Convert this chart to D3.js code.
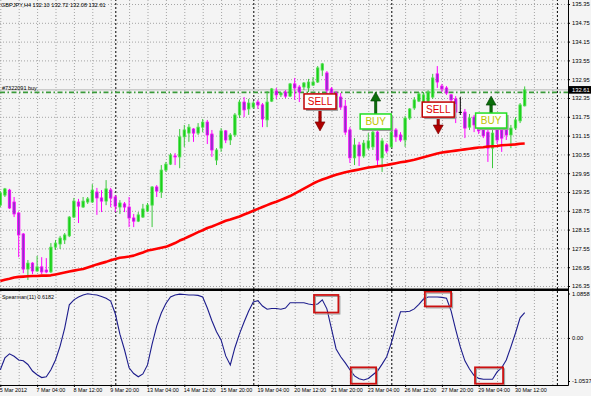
<!DOCTYPE html>
<html>
<head>
<meta charset="utf-8">
<script src="https://cdn.jsdelivr.net/npm/d3@7"></script>
<style>
html,body{margin:0;padding:0;background:#f4f4f4;overflow:hidden}
svg{display:block}
text{font-family:"Liberation Sans",Arial,sans-serif}
</style>
</head>
<body>
<svg id="chart" width="591" height="396"></svg>
<script>
// ---------------- DATA ----------------
const symbolTitle = "GBPJPY,H4  132.10 132.72 132.08 132.61";
const orderLabel = "#7322091 buy";
const orderPrice = 132.53;
const bidPrice = 132.61;
const indicatorLabel = "Spearman(11) 0.6182";

const barOpen = [
128.93,129.25,129.41,129.03,128.68,128.01,126.89,127.08,126.83,126.96,
126.86,126.80,127.59,127.69,127.82,127.95,128.55,129.03,128.87,129.03,
129.03,129.35,129.16,129.06,129.41,129.19,128.87,128.97,128.87,128.52,
128.42,128.55,128.74,128.93,129.51,129.35,130.05,130.24,130.50,130.47,
131.11,131.23,131.36,131.23,131.42,131.58,131.20,130.37,130.75,131.30,
131.01,131.17,131.81,132.22,132.00,132.06,132.22,132.13,131.65,132.25,
132.57,132.45,132.54,132.41,132.80,132.70,132.70,132.67,132.76,132.86,
133.24,133.15,132.64,132.51,132.38,132.09,131.33,130.44,130.85,130.50,
130.75,130.79,131.26,130.44,130.85,130.79,131.33,131.17,131.01,131.71,
132.03,132.25,132.16,132.25,132.38,133.12,132.73,132.67,132.45,132.32,
131.89,131.90,131.42,131.74,131.52,131.42,131.26,130.75,131.39,131.33,
131.39,131.17,131.39,131.62,132.10];
const barHigh = [
129.38,129.48,129.45,129.19,128.71,128.04,127.18,127.11,127.31,127.27,
127.24,127.72,127.82,127.95,128.04,128.58,129.16,129.13,129.19,129.19,
129.60,129.48,129.41,129.73,129.48,129.25,129.09,129.03,129.19,128.65,
128.71,128.97,129.00,129.54,129.57,130.21,130.31,130.59,130.59,131.36,
131.49,131.52,131.39,131.55,131.68,131.65,131.33,130.75,131.39,131.33,
131.23,131.87,132.29,132.38,132.32,132.25,132.29,132.19,132.57,132.67,
132.67,132.54,132.60,132.83,132.99,132.76,132.86,132.96,133.02,133.37,
133.47,133.21,132.70,132.57,132.51,132.29,131.42,131.07,130.95,131.01,
131.23,131.39,131.33,131.07,130.91,131.49,131.39,131.26,131.78,132.03,
132.38,132.54,132.54,132.60,133.12,133.37,132.80,132.73,132.48,132.41,
132.38,132.00,131.84,131.81,131.65,131.49,131.33,131.39,131.58,131.49,
131.49,131.49,131.74,132.19,132.72];
const barLow = [
128.87,129.19,128.81,128.55,127.27,126.76,126.54,126.73,126.80,126.73,
126.76,126.76,127.50,127.53,127.69,127.91,128.52,128.36,128.84,128.97,
129.00,128.62,128.71,128.93,128.87,128.71,128.65,128.71,128.23,128.23,
128.39,128.52,128.71,128.23,129.19,129.16,129.99,130.21,130.21,130.11,
130.79,130.95,130.95,131.17,131.26,130.88,130.47,130.21,130.63,130.91,
130.85,131.11,131.71,131.74,131.81,132.00,132.00,131.42,131.42,132.22,
132.32,132.38,132.35,132.38,132.29,132.22,132.60,132.54,132.73,132.83,
133.05,132.45,132.22,132.19,131.97,131.17,130.28,130.21,130.18,130.44,
130.69,130.69,130.18,129.99,130.59,130.75,130.95,130.95,130.79,131.65,
131.97,132.22,131.97,132.16,132.32,132.67,132.54,132.45,132.19,131.55,
131.81,131.07,131.33,131.26,131.20,131.07,130.31,130.11,130.88,130.63,
131.01,130.75,131.33,131.55,132.08];
const barClose = [
129.32,129.45,128.84,128.65,127.98,126.89,127.08,126.83,126.96,126.80,
126.80,127.59,127.72,127.88,127.98,128.55,129.06,128.90,129.06,129.13,
129.41,129.16,129.06,129.45,129.16,128.90,129.00,128.87,128.52,128.42,
128.62,128.81,128.93,129.51,129.38,130.05,130.24,130.53,130.47,131.11,
131.33,131.42,131.23,131.42,131.58,131.17,130.69,130.69,131.30,131.01,
131.17,131.81,132.22,131.97,132.19,132.19,132.13,131.68,132.22,132.64,
132.45,132.51,132.41,132.80,132.67,132.54,132.83,132.86,132.86,133.31,
133.44,132.60,132.51,132.32,132.06,131.26,130.44,130.85,130.50,130.91,
130.98,131.26,130.37,130.98,130.66,131.26,131.11,131.01,131.71,132.00,
132.29,132.48,132.45,132.54,132.99,132.86,132.64,132.51,132.29,131.90,
131.89,131.39,131.71,131.49,131.30,131.14,130.75,131.23,131.01,131.07,
131.17,131.39,131.65,132.13,132.61];

const maValues = [
126.51,126.55,126.58,126.62,126.64,126.65,126.66,126.67,126.67,126.68,
126.68,126.69,126.72,126.75,126.78,126.81,126.84,126.87,126.89,126.94,
126.99,127.04,127.08,127.12,127.17,127.21,127.25,127.27,127.29,127.32,
127.37,127.42,127.48,127.51,127.54,127.57,127.60,127.66,127.72,127.80,
127.86,127.93,128.00,128.07,128.13,128.20,128.25,128.31,128.37,128.43,
128.47,128.52,128.57,128.63,128.69,128.75,128.81,128.87,128.93,128.99,
129.04,129.10,129.16,129.22,129.30,129.38,129.46,129.54,129.62,129.69,
129.75,129.80,129.85,129.90,129.94,129.98,130.01,130.04,130.07,130.10,
130.13,130.15,130.17,130.19,130.21,130.24,130.27,130.30,130.32,130.35,
130.38,130.42,130.46,130.50,130.54,130.58,130.61,130.63,130.65,130.67,
130.69,130.71,130.73,130.75,130.77,130.78,130.80,130.81,130.82,130.84,
130.85,130.86,130.87,130.89,130.90];

const spearman = [
-0.78,-0.49,-0.39,-0.45,-0.54,-0.56,-0.65,-0.81,-0.90,-0.97,
-0.95,-0.78,-0.54,-0.20,0.24,0.81,0.93,1.00,1.05,1.08,
1.06,1.05,1.01,0.97,0.90,0.59,0.09,-0.29,-0.73,-0.87,
-0.95,-0.88,-0.66,-0.15,0.29,0.61,0.84,1.00,1.05,1.07,
1.06,1.05,1.05,1.04,1.00,0.73,0.42,0.15,-0.05,-0.44,
-0.66,-0.24,0.10,0.39,0.66,0.88,0.91,0.78,0.70,0.72,
0.72,0.70,0.73,0.86,0.86,0.86,0.86,0.83,0.81,0.83,
0.93,0.71,0.22,-0.27,-0.46,-0.61,-0.78,-0.93,-1.00,-1.03,
-0.99,-0.90,-0.81,-0.64,-0.46,-0.12,0.27,0.64,0.64,0.65,
0.71,0.82,0.95,1.00,1.00,1.00,0.99,0.97,0.66,0.20,
-0.22,-0.56,-0.76,-0.92,-0.99,-1.01,-1.01,-1.01,-0.83,-0.73,
-0.54,-0.22,0.12,0.49,0.6182];

const priceTicks = [126.35,126.95,127.55,128.15,128.75,129.35,129.95,130.55,131.15,131.75,132.35,132.95,133.55,134.15,134.75,135.35];
const subTicks = [1.0858, 0.00, -1.0537];
const timeLabelBars = [0,8,16,24,32,40,48,56,64,72,80,88,96,104,112];
const timeLabelTexts = ["5 Mar 2012","7 Mar 04:00","8 Mar 12:00","9 Mar 20:00","13 Mar 04:00","14 Mar 12:00","15 Mar 20:00","19 Mar 04:00","20 Mar 12:00","21 Mar 20:00","23 Mar 04:00","26 Mar 12:00","27 Mar 20:00","29 Mar 04:00","30 Mar 12:00"];
const weekSeparatorBars = [25,55,85,121];

const signalBars = [69.5, 81.6, 95.2, 106.7];
const signalTypes = ["SELL","BUY","SELL","BUY"];
const signalLabelPrices = [132.48, 131.84, 132.22, 131.87];
const signalArrowPrices = [131.30, 132.54, 131.20, 132.41];

const zoneFrom = [68.2, 76.2, 92.3, 103.2];
const zoneTo   = [73.5, 81.7, 98.0, 109.3];
const zoneHigh = [1.05, -0.72, 1.13, -0.72];
const zoneLow  = [0.62, -1.12, 0.77, -1.12];

// ---------------- CHART ----------------
const W = 591, H = 396;
const axisX = 568, mainBottom = 289, subTop = 291, subBottom = 385;
const svg = d3.select("#chart");

const xBar = d3.scaleLinear().domain([0,120]).range([0.3,552.3]);
const yMain = d3.scaleLinear().domain([126.35,135.35]).range([286,4]);
const ySub = d3.scaleLinear().domain([-1.0537,1.0858]).range([381,293.5]);

svg.append("rect").attr("width",W).attr("height",H).attr("fill","#f4f4f4");

const defs = svg.append("defs");
defs.append("clipPath").attr("id","clipMain").append("rect")
  .attr("x",0).attr("y",0).attr("width",axisX).attr("height",mainBottom);
defs.append("clipPath").attr("id","clipSub").append("rect")
  .attr("x",0).attr("y",subTop).attr("width",axisX).attr("height",subBottom-subTop);

function styleGrid(g, color, dash){
  g.select(".domain").remove();
  g.selectAll(".tick text").remove();
  g.selectAll(".tick line").attr("stroke",color).attr("stroke-dasharray",dash);
}
const gridBars = d3.range(0,121,4);
const gridCol = "#a4a4a4";

svg.append("g").call(d3.axisLeft(yMain).tickValues(priceTicks).tickSize(-axisX).tickFormat(""))
  .call(styleGrid, gridCol, "1,2");
svg.append("g").call(d3.axisLeft(ySub).tickValues([0]).tickSize(-axisX).tickFormat(""))
  .call(styleGrid, gridCol, "1,2");
svg.append("g").attr("transform",`translate(0,${mainBottom})`)
  .call(d3.axisBottom(xBar).tickValues(gridBars).tickSize(-mainBottom).tickFormat(""))
  .call(styleGrid, gridCol, "1,2");
svg.append("g").attr("transform",`translate(0,${subBottom})`)
  .call(d3.axisBottom(xBar).tickValues(gridBars).tickSize(-(subBottom-subTop)).tickFormat(""))
  .call(styleGrid, gridCol, "1,2");
// week separators
svg.append("g").attr("transform",`translate(0,${mainBottom})`)
  .call(d3.axisBottom(xBar).tickValues(weekSeparatorBars).tickSize(-mainBottom).tickFormat(""))
  .call(styleGrid, "#000", "2,2");
svg.append("g").attr("transform",`translate(0,${subBottom})`)
  .call(d3.axisBottom(xBar).tickValues(weekSeparatorBars).tickSize(-(subBottom-subTop)).tickFormat(""))
  .call(styleGrid, "#000", "2,2");

const mainG = svg.append("g").attr("clip-path","url(#clipMain)");

// bid line and order line
mainG.append("line").attr("x1",0).attr("x2",axisX)
  .attr("y1",yMain(bidPrice)).attr("y2",yMain(bidPrice))
  .attr("stroke","#b8b8b8").attr("stroke-width",1);
mainG.append("line").attr("x1",0).attr("x2",axisX)
  .attr("y1",yMain(orderPrice)).attr("y2",yMain(orderPrice))
  .attr("stroke","#3a9a3a").attr("stroke-width",1.6).attr("stroke-dasharray","5,2.5,1.5,2.5");

// candles
const bars = barOpen.map((o,i)=>({i, o, h:barHigh[i], l:barLow[i], c:barClose[i]}));
const kind = b => b.c > b.o ? "up" : (b.c < b.o ? "dn" : "doji");
const wickColor = {up:"#3cc83c", dn:"#ff00ff", doji:"#000"};
const bodyFill = {up:"#19d019", dn:"#8a34c8", doji:"#000"};
const bodyStroke = {up:"#55e055", dn:"#ff00ff", doji:"#000"};

mainG.append("g").selectAll("line").data(bars).join("line")
  .attr("x1",b=>xBar(b.i)).attr("x2",b=>xBar(b.i))
  .attr("y1",b=>yMain(b.h)).attr("y2",b=>yMain(b.l))
  .attr("stroke",b=>wickColor[kind(b)]).attr("stroke-width",1);

const bw = 2.4;
mainG.append("g").selectAll("rect").data(bars.filter(b=>kind(b)!=="doji")).join("rect")
  .attr("x",b=>xBar(b.i)-bw/2)
  .attr("y",b=>yMain(Math.max(b.o,b.c)))
  .attr("width",bw)
  .attr("height",b=>Math.max(0.8, yMain(Math.min(b.o,b.c))-yMain(Math.max(b.o,b.c))))
  .attr("fill",b=>bodyFill[kind(b)])
  .attr("stroke",b=>bodyStroke[kind(b)]).attr("stroke-width",0.8);

mainG.append("g").selectAll("line").data(bars.filter(b=>kind(b)==="doji")).join("line")
  .attr("x1",b=>xBar(b.i)-1.6).attr("x2",b=>xBar(b.i)+1.6)
  .attr("y1",b=>yMain(b.o)).attr("y2",b=>yMain(b.o))
  .attr("stroke","#000").attr("stroke-width",1);

// moving average
mainG.append("path").datum(maValues)
  .attr("d", d3.line().x((d,i)=>xBar(i)).y(d=>yMain(d)))
  .attr("fill","none").attr("stroke","#ff0000").attr("stroke-width",2.6)
  .attr("stroke-linejoin","round");

// signals
const sigG = svg.append("g");
signalBars.forEach((bar,k)=>{
  const type = signalTypes[k];
  const cx = xBar(bar);
  const top = yMain(signalLabelPrices[k]);
  const tip = yMain(signalArrowPrices[k]);
  const isSell = type === "SELL";
  const bwid = isSell ? 32 : 31, bh = 15;
  const arrowCol = isSell ? "#b00000" : "#0b6e0b";
  const arrowDark = isSell ? "#700000" : "#064006";
  // arrow
  const headH = 9, headW = 10;
  if (isSell){
    const shaftTop = top + bh, headBase = tip - headH;
    sigG.append("rect").attr("x",cx-1.3).attr("y",shaftTop).attr("width",2.6).attr("height",headBase-shaftTop+0.5)
      .attr("fill",arrowCol).attr("stroke",arrowDark).attr("stroke-width",0.4);
    sigG.append("path").attr("d",`M${cx-headW/2},${headBase}L${cx+headW/2},${headBase}L${cx},${tip}Z`)
      .attr("fill",arrowCol).attr("stroke",arrowDark).attr("stroke-width",0.6);
  } else {
    const headBase = tip + headH;
    sigG.append("rect").attr("x",cx-1.3).attr("y",headBase-0.5).attr("width",2.6).attr("height",top-headBase+0.5)
      .attr("fill",arrowCol).attr("stroke",arrowDark).attr("stroke-width",0.4);
    sigG.append("path").attr("d",`M${cx-headW/2},${headBase}L${cx+headW/2},${headBase}L${cx},${tip}Z`)
      .attr("fill",arrowCol).attr("stroke",arrowDark).attr("stroke-width",0.6);
  }
  // label box with shadow
  sigG.append("rect").attr("x",cx-bwid/2+2).attr("y",top+2).attr("width",bwid).attr("height",bh)
    .attr("fill","#9a9a9a");
  sigG.append("rect").attr("x",cx-bwid/2).attr("y",top).attr("width",bwid).attr("height",bh)
    .attr("fill","#ffffff").attr("stroke",isSell ? "#c00000" : "#22e022").attr("stroke-width",1.5);
  sigG.append("text").attr("x",cx).attr("y",top+bh/2+3.6)
    .attr("text-anchor","middle").attr("font-size",10)
    .attr("fill",isSell ? "#e00000" : "#c0c400").text(type);
});

// subwindow indicator
const subG = svg.append("g").attr("clip-path","url(#clipSub)");
subG.append("path").datum(spearman)
  .attr("d", d3.line().x((d,i)=>xBar(i)).y(d=>ySub(d)))
  .attr("fill","none").attr("stroke","#1c1c8c").attr("stroke-width",1.1);

// zones (red boxes)
const zoneG = svg.append("g");
zoneFrom.forEach((f,k)=>{
  const x1 = xBar(f), x2 = xBar(zoneTo[k]);
  const y1 = ySub(zoneHigh[k]), y2 = ySub(zoneLow[k]);
  zoneG.append("rect").attr("x",x1+1.5).attr("y",y1+1.5).attr("width",x2-x1).attr("height",y2-y1)
    .attr("fill","none").attr("stroke","#9aa0a0").attr("stroke-width",1);
  zoneG.append("rect").attr("x",x1).attr("y",y1).attr("width",x2-x1).attr("height",y2-y1)
    .attr("fill","none").attr("stroke","#cc1010").attr("stroke-width",1.8);
});

// separator between windows & axis lines
svg.append("rect").attr("x",0).attr("y",mainBottom-0.5).attr("width",axisX).attr("height",2.5).attr("fill","#000");
svg.append("line").attr("x1",axisX+0.5).attr("x2",axisX+0.5).attr("y1",0).attr("y2",subBottom+0.5)
  .attr("stroke","#000").attr("stroke-width",1);
svg.append("line").attr("x1",0).attr("x2",axisX+0.5).attr("y1",subBottom+0.5).attr("y2",subBottom+0.5)
  .attr("stroke","#000").attr("stroke-width",1);

// price axis
function styleAxis(g, size){
  g.select(".domain").remove();
  g.selectAll(".tick line").attr("stroke","#000");
  g.selectAll(".tick text").attr("font-size",size).attr("fill","#000")
    .attr("font-family",'"Liberation Sans",Arial,sans-serif');
}
svg.append("g").attr("transform",`translate(${axisX},0)`)
  .call(d3.axisRight(yMain).tickValues(priceTicks).tickFormat(d3.format(".2f")).tickSize(2).tickPadding(2))
  .call(styleAxis, 5.8);
svg.append("g").attr("transform",`translate(${axisX},0)`)
  .call(d3.axisRight(ySub).tickValues(subTicks).tickFormat(d => d === 0 ? "0.00" : d.toFixed(4)).tickSize(2).tickPadding(2))
  .call(styleAxis, 5.8);

// time axis
const tg = svg.append("g").attr("transform",`translate(0,${subBottom})`)
  .call(d3.axisBottom(xBar).tickValues(timeLabelBars).tickFormat((d,i)=>timeLabelTexts[i]).tickSize(2).tickPadding(1))
  .call(styleAxis, 5.4);
tg.selectAll(".tick text").attr("text-anchor","start").attr("dx",-1);

// current price tag
const yb = yMain(bidPrice);
svg.append("rect").attr("x",axisX).attr("y",yb-3.8).attr("width",W-axisX).attr("height",7.6).attr("fill","#000");
svg.append("text").attr("x",axisX+4).attr("y",yb+2.1).attr("font-size",5.8).attr("fill","#fff").text(d3.format(".2f")(bidPrice));

// texts
svg.append("text").attr("x",1).attr("y",6.6).attr("font-size",5.6).attr("fill","#000").text(symbolTitle);
svg.append("text").attr("x",2).attr("y",yMain(orderPrice)-2.2).attr("font-size",5.5).attr("fill","#000").text(orderLabel);
svg.append("text").attr("x",2).attr("y",298.5).attr("font-size",5.4).attr("fill","#000").text(indicatorLabel);
</script>
</body>
</html>
